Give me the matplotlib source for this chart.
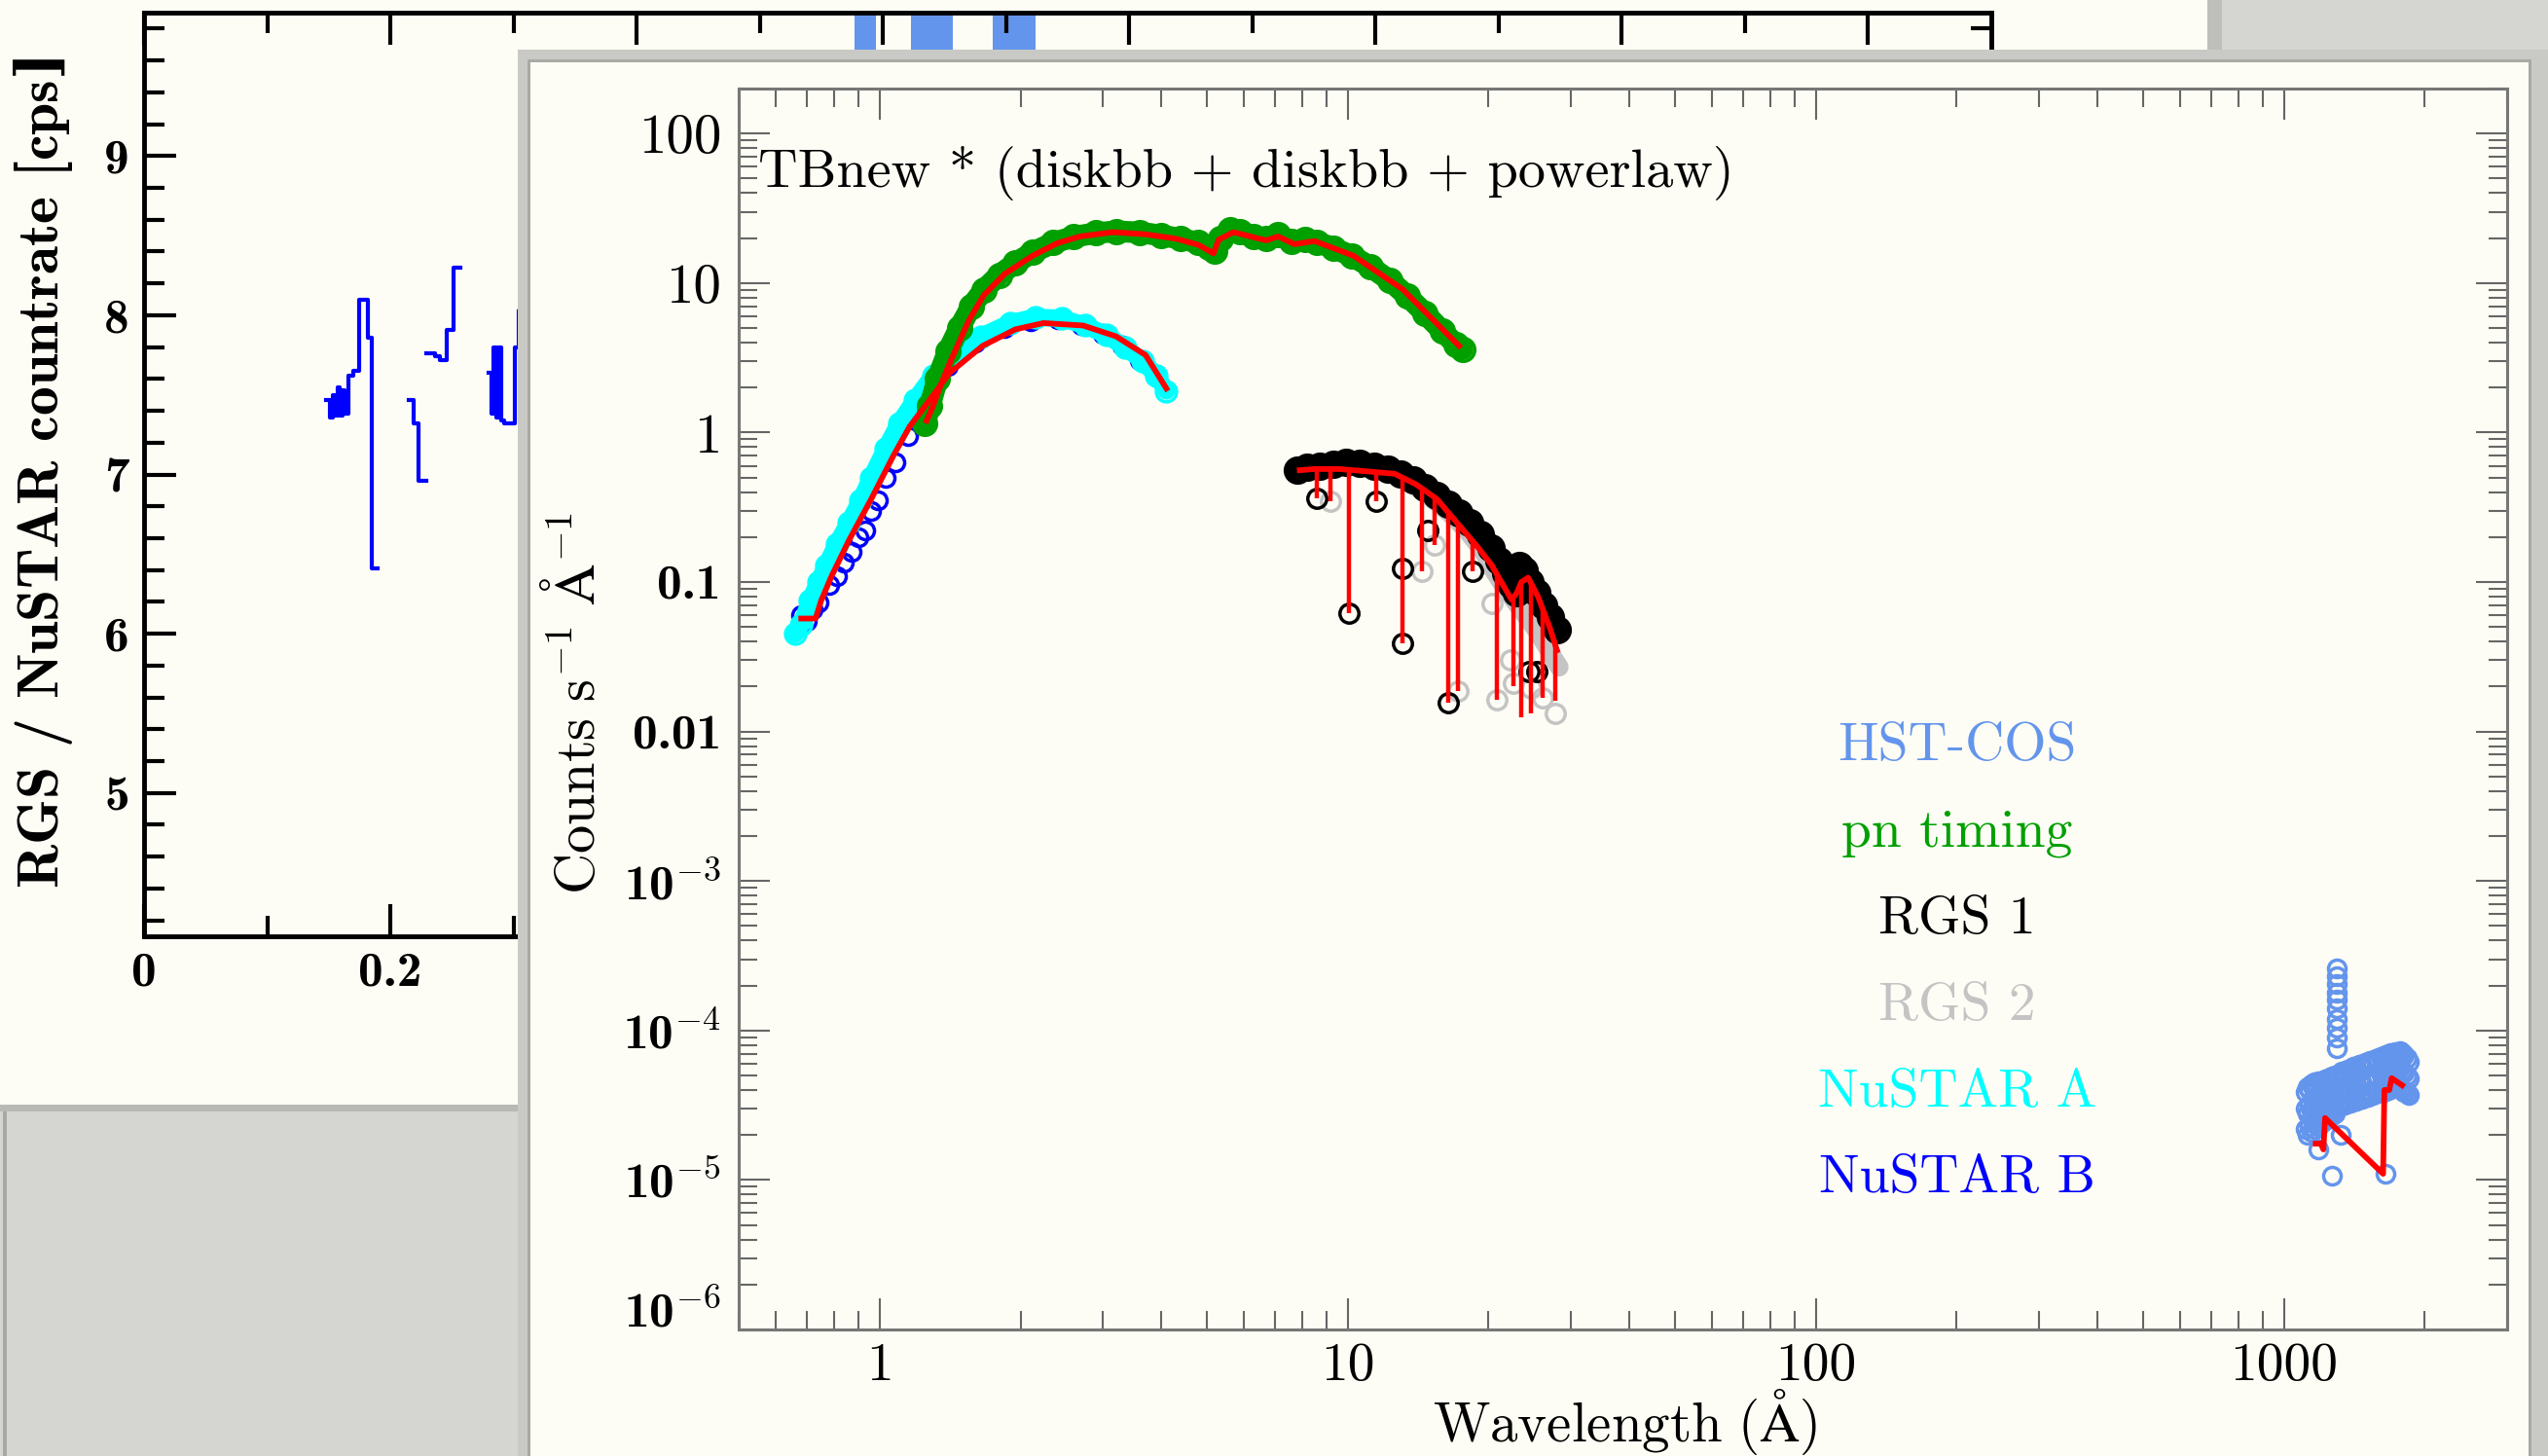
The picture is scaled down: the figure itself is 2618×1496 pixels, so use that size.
import matplotlib
matplotlib.use("Agg")
import matplotlib.pyplot as plt
import numpy as np
from matplotlib.patches import Rectangle
from matplotlib.ticker import FixedLocator, LogLocator, NullFormatter
from matplotlib.transforms import ScaledTranslation

plt.rcParams['mathtext.fontset'] = 'cm'

# ---------------- background panel: light curve ----------------
lc1_t = [0.148, 0.151, 0.153, 0.155, 0.157, 0.159, 0.161, 0.163, 0.166, 0.170, 0.175, 0.182, 0.185, 0.190]
lc1_r = [7.47, 7.36, 7.50, 7.37, 7.55, 7.37, 7.53, 7.38, 7.62, 7.65, 8.10, 7.86, 6.41, 6.41]
lc2_t = [0.215, 0.219, 0.223, 0.229]
lc2_r = [7.47, 7.32, 6.96, 6.96]
lc3_t = [0.229, 0.236, 0.240, 0.246, 0.251, 0.257]
lc3_r = [7.76, 7.74, 7.72, 7.91, 8.30, 8.30]
lc4_t = [0.280, 0.2825, 0.284, 0.286, 0.288, 0.290, 0.2925, 0.3015, 0.3045, 0.320]
lc4_r = [7.64, 7.38, 7.80, 7.36, 7.80, 7.34, 7.32, 7.80, 8.03, 8.03]
hst_span_start = [0.577, 0.623, 0.689]
hst_span_end = [0.594, 0.657, 0.724]

bg_xticks = [0, 0.2, 0.4, 0.6, 0.8, 1.0, 1.2, 1.4]
bg_xlabels = ['0', '0.2', '0.4', '0.6', '0.8', '1', '1.2', '1.4']
bg_yticks = [5, 6, 7, 8, 9]

# ---------------- foreground panel: spectra ----------------
pn_wav = [1.25, 1.28, 1.33, 1.40, 1.48, 1.57, 1.67, 1.80, 1.95, 2.12, 2.35, 2.6, 2.9, 3.2, 3.6,
          4.0, 4.4, 4.8, 5.05, 5.2, 5.35, 5.6, 5.9, 6.3, 6.7, 7.1, 7.6, 8.1, 8.6, 9.3,
          10.2, 11.2, 12.3, 13.4, 14.6, 15.9, 17.0, 17.6]
pn_cts = [1.15, 1.5, 2.3, 3.5, 5.0, 7.0, 9.0, 11.3, 13.6, 16.0, 18.6, 20.4, 21.6, 22.2, 21.8,
          20.8, 19.8, 18.6, 17.4, 16.3, 19.8, 22.6, 22.0, 20.6, 19.8, 21.0, 19.0, 19.6, 18.8, 17.2,
          15.2, 12.8, 10.4, 8.2, 6.3, 4.8, 3.9, 3.6]
pn_mod_wav = [1.26, 1.30, 1.36, 1.43, 1.55, 1.67, 1.85, 2.12, 2.4, 2.68, 3.15, 3.7, 4.3, 4.8, 5.17,
              5.3, 5.7, 6.2, 6.7, 7.1, 7.7, 8.5, 10.3, 13.1, 17.3]
pn_mod = [1.2, 1.5, 2.2, 3.2, 5.6, 8.3, 11.5, 15.2, 18.5, 20.5, 21.9, 21.2, 19.8, 18.0, 15.8,
          19.5, 21.9, 20.5, 19.3, 20.5, 18.2, 19.1, 15.2, 9.1, 3.8]

nua_wav = [0.66, 0.68, 0.71, 0.74, 0.77, 0.81, 0.86, 0.91, 0.96, 1.03, 1.10, 1.19, 1.30, 1.45, 1.65,
           1.90, 2.15, 2.45, 2.75, 3.05, 3.35, 3.65, 3.90, 4.10]
nua_cts = [0.045, 0.052, 0.075, 0.10, 0.13, 0.18, 0.25, 0.35, 0.50, 0.78, 1.15, 1.65, 2.4, 3.3, 4.4,
           5.4, 5.9, 5.8, 5.2, 4.5, 3.7, 3.0, 2.4, 1.9]
nub_wav = [0.68, 0.70, 0.72, 0.74, 0.78, 0.81, 0.84, 0.87, 0.90, 0.93, 0.96, 0.99, 1.03, 1.08, 1.15,
           1.25, 1.4, 1.6, 1.85, 2.1, 2.4, 2.7, 3.0, 3.3, 3.6, 3.9]
nub_cts = [0.060, 0.055, 0.066, 0.073, 0.095, 0.11, 0.136, 0.16, 0.20, 0.223, 0.30, 0.35, 0.50, 0.63, 0.95,
           1.9, 2.8, 4.0, 5.0, 5.6, 5.7, 5.2, 4.6, 3.8, 3.05, 2.4]
nu_mod_wav = [0.68, 0.73, 0.75, 0.79, 0.86, 0.96, 1.07, 1.16, 1.26, 1.41, 1.66, 1.95, 2.24, 2.72, 3.2, 3.7, 4.1]
nu_mod = [0.057, 0.057, 0.075, 0.11, 0.19, 0.36, 0.70, 1.1, 1.55, 2.5, 3.8, 4.9, 5.4, 5.2, 4.4, 3.3, 1.97]

rgs1_wav = [7.8, 8.2, 8.7, 9.3, 9.9, 10.6, 11.4, 12.2, 13.0, 13.8, 14.6, 15.5, 16.4, 17.3, 18.2,
            19.2, 20.2, 21.0, 21.8, 22.4, 22.9, 23.3, 23.8, 24.5, 25.3, 26.2, 27.1, 28.0]
rgs1_cts = [0.56, 0.59, 0.60, 0.61, 0.63, 0.62, 0.60, 0.57, 0.53, 0.48, 0.43, 0.38, 0.33, 0.29, 0.25,
            0.21, 0.17, 0.14, 0.115, 0.095, 0.085, 0.13, 0.12, 0.10, 0.085, 0.07, 0.058, 0.048]
rgs2_wav = [8.0, 9.0, 10.0, 11.0, 12.0, 13.5, 15.0, 16.5, 18.0, 19.5, 20.5, 21.5, 22.5, 23.5, 24.5,
            25.5, 26.5, 27.5, 28.3]
rgs2_cts = [0.55, 0.58, 0.60, 0.58, 0.55, 0.47, 0.37, 0.29, 0.22, 0.16, 0.12, 0.095, 0.078, 0.065, 0.055,
            0.046, 0.038, 0.031, 0.027]
rgs_mod_wav = [7.9, 8.5, 9.6, 11.0, 12.6, 14.0, 15.5, 17.3, 19.0, 20.3, 21.5, 22.4, 23.0, 23.5, 24.3,
               25.5, 27.0, 28.0]
rgs_mod = [0.56, 0.57, 0.57, 0.55, 0.53, 0.45, 0.36, 0.24, 0.17, 0.13, 0.095, 0.076, 0.085, 0.10, 0.107,
           0.08, 0.05, 0.035]
rgs1_out_wav = [8.6, 10.05, 11.5, 13.1, 13.1, 14.8, 16.4, 18.5, 24.4, 25.3]
rgs1_out_cts = [0.364, 0.0617, 0.346, 0.124, 0.039, 0.22, 0.0156, 0.118, 0.025, 0.025]
rgs2_out_wav = [9.2, 14.4, 15.3, 17.2, 20.3, 20.8, 22.3, 22.6, 24.6, 26.1, 27.8]
rgs2_out_cts = [0.346, 0.118, 0.176, 0.0186, 0.072, 0.0164, 0.03, 0.021, 0.0195, 0.0168, 0.0132]
drop_wav = [8.6, 9.2, 10.05, 11.5, 13.1, 14.4, 15.3, 16.4, 17.2, 18.5, 20.8, 22.6, 23.5, 24.6, 26.1, 27.8]
drop_lo = [0.364, 0.346, 0.0617, 0.346, 0.039, 0.118, 0.176, 0.0156, 0.0186, 0.118, 0.0164, 0.02,
           0.0125, 0.0132, 0.0168, 0.016]
drop_hi = [0.57, 0.57, 0.57, 0.55, 0.51, 0.43, 0.37, 0.30, 0.25, 0.19, 0.115, 0.076, 0.10, 0.10, 0.065, 0.038]

# HST-COS: three rows of the dense cloud, the 1300 A stack and a few low points
hst_left_wav = [1115, 1125, 1135, 1145, 1155, 1165, 1175, 1185, 1195, 1205, 1215, 1225, 1235, 1245,
                1255, 1265, 1275, 1285, 1295]
hst_left_hi = [3.9e-5, 4.2e-5, 4.0e-5, 4.4e-5, 4.1e-5, 4.5e-5, 4.2e-5, 4.6e-5, 4.3e-5, 4.5e-5, 4.4e-5,
               4.7e-5, 4.5e-5, 4.8e-5, 4.6e-5, 4.9e-5, 4.7e-5, 5.0e-5, 4.9e-5]
hst_left_mid = [3.0e-5, 2.8e-5, 3.2e-5, 2.9e-5, 3.3e-5, 3.0e-5, 3.4e-5, 3.1e-5, 3.3e-5, 3.2e-5, 3.5e-5,
                3.3e-5, 3.6e-5, 3.4e-5, 3.7e-5, 3.5e-5, 3.8e-5, 3.6e-5, 3.9e-5]
hst_left_lo = [2.2e-5, 2.0e-5, 2.3e-5, 2.1e-5, 2.4e-5, 2.2e-5, 2.5e-5, 2.3e-5, 2.6e-5, 2.4e-5, 2.7e-5,
               2.5e-5, 2.8e-5, 2.6e-5, 2.9e-5, 2.7e-5, 3.0e-5, 2.8e-5, 3.1e-5]
hst_right_wav = [1310, 1330, 1350, 1370, 1390, 1410, 1430, 1450, 1470, 1490, 1510, 1530, 1550, 1570,
                 1590, 1610, 1630, 1650, 1670, 1690, 1710, 1730, 1750, 1770, 1790, 1810, 1830, 1850]
hst_right_hi = [5.0e-5, 5.3e-5, 5.1e-5, 5.5e-5, 5.3e-5, 5.7e-5, 5.5e-5, 5.9e-5, 5.7e-5, 6.1e-5, 5.9e-5,
                6.3e-5, 6.1e-5, 6.5e-5, 6.3e-5, 6.7e-5, 6.5e-5, 6.9e-5, 6.7e-5, 7.1e-5, 6.9e-5, 7.2e-5,
                7.0e-5, 7.3e-5, 7.1e-5, 6.9e-5, 6.6e-5, 6.2e-5]
hst_right_mid = [3.9e-5, 4.1e-5, 4.0e-5, 4.3e-5, 4.1e-5, 4.4e-5, 4.2e-5, 4.6e-5, 4.4e-5, 4.7e-5, 4.5e-5,
                 4.9e-5, 4.7e-5, 5.0e-5, 4.8e-5, 5.2e-5, 5.0e-5, 5.3e-5, 5.1e-5, 5.4e-5, 5.2e-5, 5.5e-5,
                 5.3e-5, 5.6e-5, 5.4e-5, 5.2e-5, 5.0e-5, 4.8e-5]
hst_right_lo = [3.1e-5, 3.3e-5, 3.2e-5, 3.4e-5, 3.3e-5, 3.5e-5, 3.4e-5, 3.6e-5, 3.5e-5, 3.7e-5, 3.6e-5,
                3.8e-5, 3.7e-5, 3.9e-5, 3.8e-5, 4.0e-5, 3.9e-5, 4.1e-5, 4.0e-5, 4.2e-5, 4.1e-5, 4.3e-5,
                4.2e-5, 4.1e-5, 4.0e-5, 3.9e-5, 3.8e-5, 3.7e-5]
hst_stack_wav = [1300, 1300, 1300, 1300, 1300, 1300, 1300, 1300, 1300, 1300]
hst_stack_cts = [2.6e-4, 2.3e-4, 2.05e-4, 1.8e-4, 1.6e-4, 1.4e-4, 1.2e-4, 1.05e-4, 9e-5, 7.6e-5]
hst_out_wav = [1185, 1270, 1650, 1320]
hst_out_cts = [1.6e-5, 1.07e-5, 1.1e-5, 2.0e-5]
hst_mod_wav = [1170, 1200, 1215, 1225, 1630, 1640, 1680, 1700, 1790]
hst_mod = [1.75e-5, 1.75e-5, 1.6e-5, 2.6e-5, 1.1e-5, 4.0e-5, 4.0e-5, 4.8e-5, 4.3e-5]

fg_xticks = [1, 10, 100, 1000]
fg_xlabels = ['1', '10', '100', '1000']
fg_yticks = [100, 10, 1, 0.1, 0.01, 1e-3, 1e-4, 1e-5, 1e-6]
fg_ylabels = ['100', '10', '1', '0.1', '0.01', '10$^{-3}$', '10$^{-4}$', '10$^{-5}$', '10$^{-6}$']

legend_names = ['HST-COS', 'pn timing', 'RGS 1', 'RGS 2', 'NuSTAR A', 'NuSTAR B']
legend_colors = ['cornflowerblue', '#00a000', 'black', '#c4c4c4', 'cyan', 'blue']

W, H = 2618, 1496
CREAM = '#fdfdf5'
GRAY = '#d5d5d1'
RED = '#ff0000'
GREEN = '#00a000'


def px_box(fig, x0, y0, x1, y1, color, z):
    fig.add_artist(Rectangle((x0 / W, 1 - y1 / H), (x1 - x0) / W, (y1 - y0) / H,
                             transform=fig.transFigure, facecolor=color, edgecolor='none', zorder=z))


def px_axes(fig, x0, y0, x1, y1, z):
    return fig.add_axes([x0 / W, 1 - y1 / H, (x1 - x0) / W, (y1 - y0) / H], zorder=z)


fig = plt.figure(figsize=(W / 100, H / 100), dpi=100, facecolor=GRAY)

# background window
px_box(fig, 0, 0, 2268, 1135, CREAM, 0.2)
px_box(fig, 0, 1135, 540, 1142, '#b8b8b4', 0.3)
px_box(fig, 2268, 0, 2283, 60, '#bebeba', 0.3)
px_box(fig, 3, 1142, 7, 1496, '#a8a8a4', 0.3)

ax_bg = px_axes(fig, 148, 13, 2046, 962, 1)
ax_bg.set_facecolor('none')
for a, b in zip(hst_span_start, hst_span_end):
    ax_bg.axvspan(a, b, color='cornflowerblue', lw=0, zorder=0.5)
for t, r in [(lc1_t, lc1_r), (lc2_t, lc2_r), (lc3_t, lc3_r), (lc4_t, lc4_r)]:
    ax_bg.step(t, r, where='post', color='blue', lw=3)
ax_bg.set_xlim(0, 1.5)
ax_bg.set_ylim(4.1, 9.9)
ax_bg.set_xticks(bg_xticks, bg_xlabels)
ax_bg.xaxis.set_minor_locator(FixedLocator(np.arange(0.1, 1.5, 0.2)))
ax_bg.set_yticks(bg_yticks, [str(v) for v in bg_yticks])
ax_bg.yaxis.set_minor_locator(FixedLocator(np.arange(4.2, 9.9, 0.2)))
ax_bg.tick_params(which='both', direction='in', top=True, right=True, width=3, color='black')
ax_bg.tick_params(which='major', length=24, labelsize=37, pad=11)
ax_bg.tick_params(which='minor', length=15)
for lab in ax_bg.get_xticklabels() + ax_bg.get_yticklabels():
    lab.set_fontfamily('cmb10')
for sp in ax_bg.spines.values():
    sp.set_linewidth(3.5)
# the closing bracket is taken from DejaVu Serif (the cm fonts here lack it)
fig.text(45 / W, 1 - 486 / H, r'RGS / NuSTAR countrate [cps$\mathbf{]}$', rotation=90, ha='center', va='center',
         fontfamily='cmb10', math_fontfamily='dejavuserif', fontsize=43, zorder=1.5)

# foreground window
px_box(fig, 532, 51, 2618, 1496, '#c9c9c5', 2)
px_box(fig, 542, 61, 2601, 1496, '#a9a9a5', 2.1)
px_box(fig, 545, 64, 2598, 1496, CREAM, 2.2)

ax = px_axes(fig, 759, 91, 2576, 1366, 3)
ax.set_facecolor('none')
ax.set_xscale('log')
ax.set_yscale('log')

band = dict(solid_capstyle='round', solid_joinstyle='round')
# NuSTAR
ax.plot(nub_wav, nub_cts, 'o', mfc='none', mec='blue', ms=13, mew=2.5)
ax.plot(nua_wav, nua_cts, '-', color='cyan', lw=13, **band)
ax.plot(nua_wav, nua_cts, 'o', mfc='none', mec='cyan', ms=15, mew=2.5)
# pn
ax.plot(pn_wav, pn_cts, '-', color=GREEN, lw=16, **band)
ax.plot(pn_wav, pn_cts, 'o', mfc='none', mec=GREEN, ms=17, mew=2.5)
# RGS
ax.plot(rgs2_wav, rgs2_cts, '-', color='#c4c4c4', lw=14, **band)
ax.plot(rgs2_out_wav, rgs2_out_cts, 'o', mfc='none', mec='#c4c4c4', ms=14, mew=2.5)
ax.plot(rgs1_wav, rgs1_cts, '-', color='black', lw=17, **band)
ax.plot(rgs1_wav, rgs1_cts, 'o', mfc='none', mec='black', ms=18, mew=3)
ax.plot(rgs1_out_wav, rgs1_out_cts, 'o', mfc='none', mec='black', ms=14, mew=2.5)
# HST-COS
for w, c in [(hst_left_wav, hst_left_hi), (hst_left_wav, hst_left_mid), (hst_left_wav, hst_left_lo),
             (hst_right_wav, hst_right_hi), (hst_right_wav, hst_right_mid), (hst_right_wav, hst_right_lo),
             (hst_stack_wav, hst_stack_cts), (hst_out_wav, hst_out_cts)]:
    ax.plot(w, c, 'o', mfc='none', mec='cornflowerblue', ms=13, mew=2.5)

# models
ax.vlines(drop_wav, drop_lo, drop_hi, color=RED, lw=3.2)
for w, m in [(pn_mod_wav, pn_mod), (nu_mod_wav, nu_mod), (rgs_mod_wav, rgs_mod), (hst_mod_wav, hst_mod)]:
    ax.plot(w, m, '-', color=RED, lw=4.2)

ax.set_xlim(0.5, 3000)
ax.set_ylim(1e-6, 200)
ax.xaxis.set_major_locator(FixedLocator(fg_xticks))
ax.set_xticklabels(fg_xlabels)
ax.xaxis.set_minor_locator(LogLocator(base=10, subs=np.arange(2, 10), numticks=100))
ax.xaxis.set_minor_formatter(NullFormatter())
ax.yaxis.set_major_locator(FixedLocator(fg_yticks))
ax.set_yticklabels(fg_ylabels)
ax.yaxis.set_minor_locator(LogLocator(base=10, subs=np.arange(2, 10), numticks=100))
ax.yaxis.set_minor_formatter(NullFormatter())
ax.tick_params(which='both', direction='in', top=True, right=True, width=1.5, color='#666666')
ax.tick_params(which='major', length=23)
ax.tick_params(which='minor', length=14)
ax.tick_params(axis='x', which='major', labelsize=40, pad=10)
ax.tick_params(axis='y', which='major', labelsize=37, pad=13)
for lab in ax.get_xticklabels():
    lab.set_fontfamily('cmr10')
ylabs = ax.get_yticklabels()
for i, lab in enumerate(ylabs):
    lab.set_fontfamily('cmr10' if i < 3 else 'cmb10')
    if i < 3:
        lab.set_fontsize(41)
# the lowest label sits a little above the bottom spine in the reference
ylabs[-1].set_transform(ylabs[-1].get_transform() + ScaledTranslation(0, 0.22, fig.dpi_scale_trans))
for sp in ax.spines.values():
    sp.set_linewidth(2.2)
    sp.set_color('#777777')

fig.text(593 / W, 1 - 722 / H, r'$\mathrm{Counts\ s^{-1}\ \AA^{-1}}$', rotation=90, ha='center', va='center',
         fontsize=42, zorder=4)
fig.text(1670 / W, 1 - 1481 / H, r'$\mathrm{Wavelength\ (\AA)}$', ha='center', va='baseline',
         fontsize=41, zorder=4)
fig.text(779 / W, 1 - 192 / H, 'TBnew * (diskbb + diskbb + powerlaw)',
         ha='left', va='baseline', fontfamily='cmr10', fontsize=40.5, zorder=4)

for i, (name, col) in enumerate(zip(legend_names, legend_colors)):
    fig.text(2011 / W, 1 - (781 + 88.9 * i) / H, name, color=col, ha='center', va='baseline',
             fontfamily='cmr10', fontsize=40, zorder=4)

fig.savefig('out.png', dpi=100, facecolor=GRAY)
